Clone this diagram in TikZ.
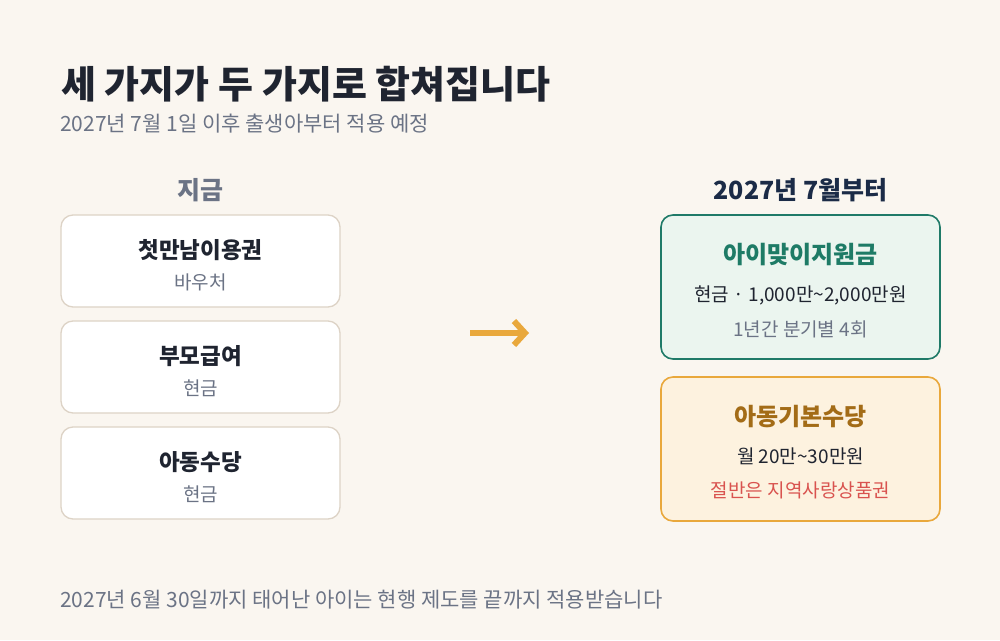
\documentclass[tikz,border=0pt]{standalone}
\usepackage{fontspec}
\setmainfont{Noto Sans CJK KR}
\usetikzlibrary{arrows.meta}

\definecolor{bgcream}{HTML}{FAF6F0}
\definecolor{inkdark}{HTML}{1F2430}
\definecolor{inkgray}{HTML}{6B7385}
\definecolor{inknavy}{HTML}{1B2B47}
\definecolor{cardline}{HTML}{DDD3C6}
\definecolor{greenline}{HTML}{1F7A68}
\definecolor{greenfill}{HTML}{EBF5EF}
\definecolor{greentext}{HTML}{1E7B66}
\definecolor{amberline}{HTML}{E9A83C}
\definecolor{amberfill}{HTML}{FDF2DF}
\definecolor{ambertext}{HTML}{A36C17}
\definecolor{redtext}{HTML}{D9534F}

\newcommand{\fsz}[1]{\fontsize{#1}{#1}\selectfont}

\tikzset{
  card/.style={rounded corners=12pt, minimum width=279pt, inner sep=0pt},
  oldcard/.style={card, draw=cardline, fill=white, line width=1.3pt, minimum height=92pt},
  greencard/.style={card, draw=greenline, fill=greenfill, line width=1.6pt, minimum height=144pt},
  ambercard/.style={card, draw=amberline, fill=amberfill, line width=1.6pt, minimum height=144pt},
  colhead/.style={font=\fsz{25}\bfseries, inner sep=0pt},
  cardtitle/.style={font=\fsz{22.5}\bfseries, text=inkdark, inner sep=0pt},
  cardsub/.style={font=\fsz{19}, text=inkgray, inner sep=0pt},
  cardline/.style={font=\fsz{19}, text=inkdark, inner sep=0pt},
}

\begin{document}
\begin{tikzpicture}[x=1pt,y=-1pt]
  \fill[bgcream] (0,0) rectangle (1000,640);
  \useasboundingbox (0,0) rectangle (1000,640);

  % heading
  \node[anchor=west, inner sep=0pt, font=\fsz{38}\bfseries, text=inkdark] (title) at (61,84) {세 가지가 두 가지로 합쳐집니다};
  \node[anchor=west, inner sep=0pt, font=\fsz{21}, text=inkgray] (subtitle) at (60,124) {2027년 7월 1일 이후 출생아부터 적용 예정};

  % left column: now
  \node[colhead, text=inkgray] (nowhead) at (200.5,190) {지금};
  \node[oldcard] (voucher) at (200.5,261) {};
  \node[cardtitle] at (200.5,250) {첫만남이용권};
  \node[cardsub] at (200.5,282) {바우처};
  \node[oldcard] (parent) at (200.5,367) {};
  \node[cardtitle] at (200.5,356) {부모급여};
  \node[cardsub] at (200.5,388) {현금};
  \node[oldcard] (child) at (200.5,473) {};
  \node[cardtitle] at (200.5,462) {아동수당};
  \node[cardsub] at (200.5,494) {현금};

  % arrow
  \coordinate (arrfrom) at (470,333);
  \coordinate (arrto) at (529,333);
  \draw[amberline, line width=6pt, -{Straight Barb[length=11pt,width=24pt,line width=6pt]}] (arrfrom) -- (arrto);

  % right column: from July 2027
  \node[colhead, text=inknavy] (newhead) at (800.5,190) {2027년 7월부터};
  \node[greencard] (welcome) at (800.5,287) {};
  \node[cardtitle, font=\fsz{24}\bfseries, text=greentext] at (800.5,255) {아이맞이지원금};
  \node[cardline] at (800.5,295) {현금 · 1,000만\textasciitilde2,000만원};
  \node[cardsub] at (800.5,329) {1년간 분기별 4회};
  \node[ambercard] (basic) at (800.5,449) {};
  \node[cardtitle, font=\fsz{24}\bfseries, text=ambertext] at (800.5,417) {아동기본수당};
  \node[cardline] at (800.5,456) {월 20만\textasciitilde30만원};
  \node[cardsub, text=redtext] at (800.5,490) {절반은 지역사랑상품권};

  % footnote
  \node[anchor=west, inner sep=0pt, font=\fsz{21}, text=inkgray] (footnote) at (60,600) {2027년 6월 30일까지 태어난 아이는 현행 제도를 끝까지 적용받습니다};
\end{tikzpicture}
\end{document}
